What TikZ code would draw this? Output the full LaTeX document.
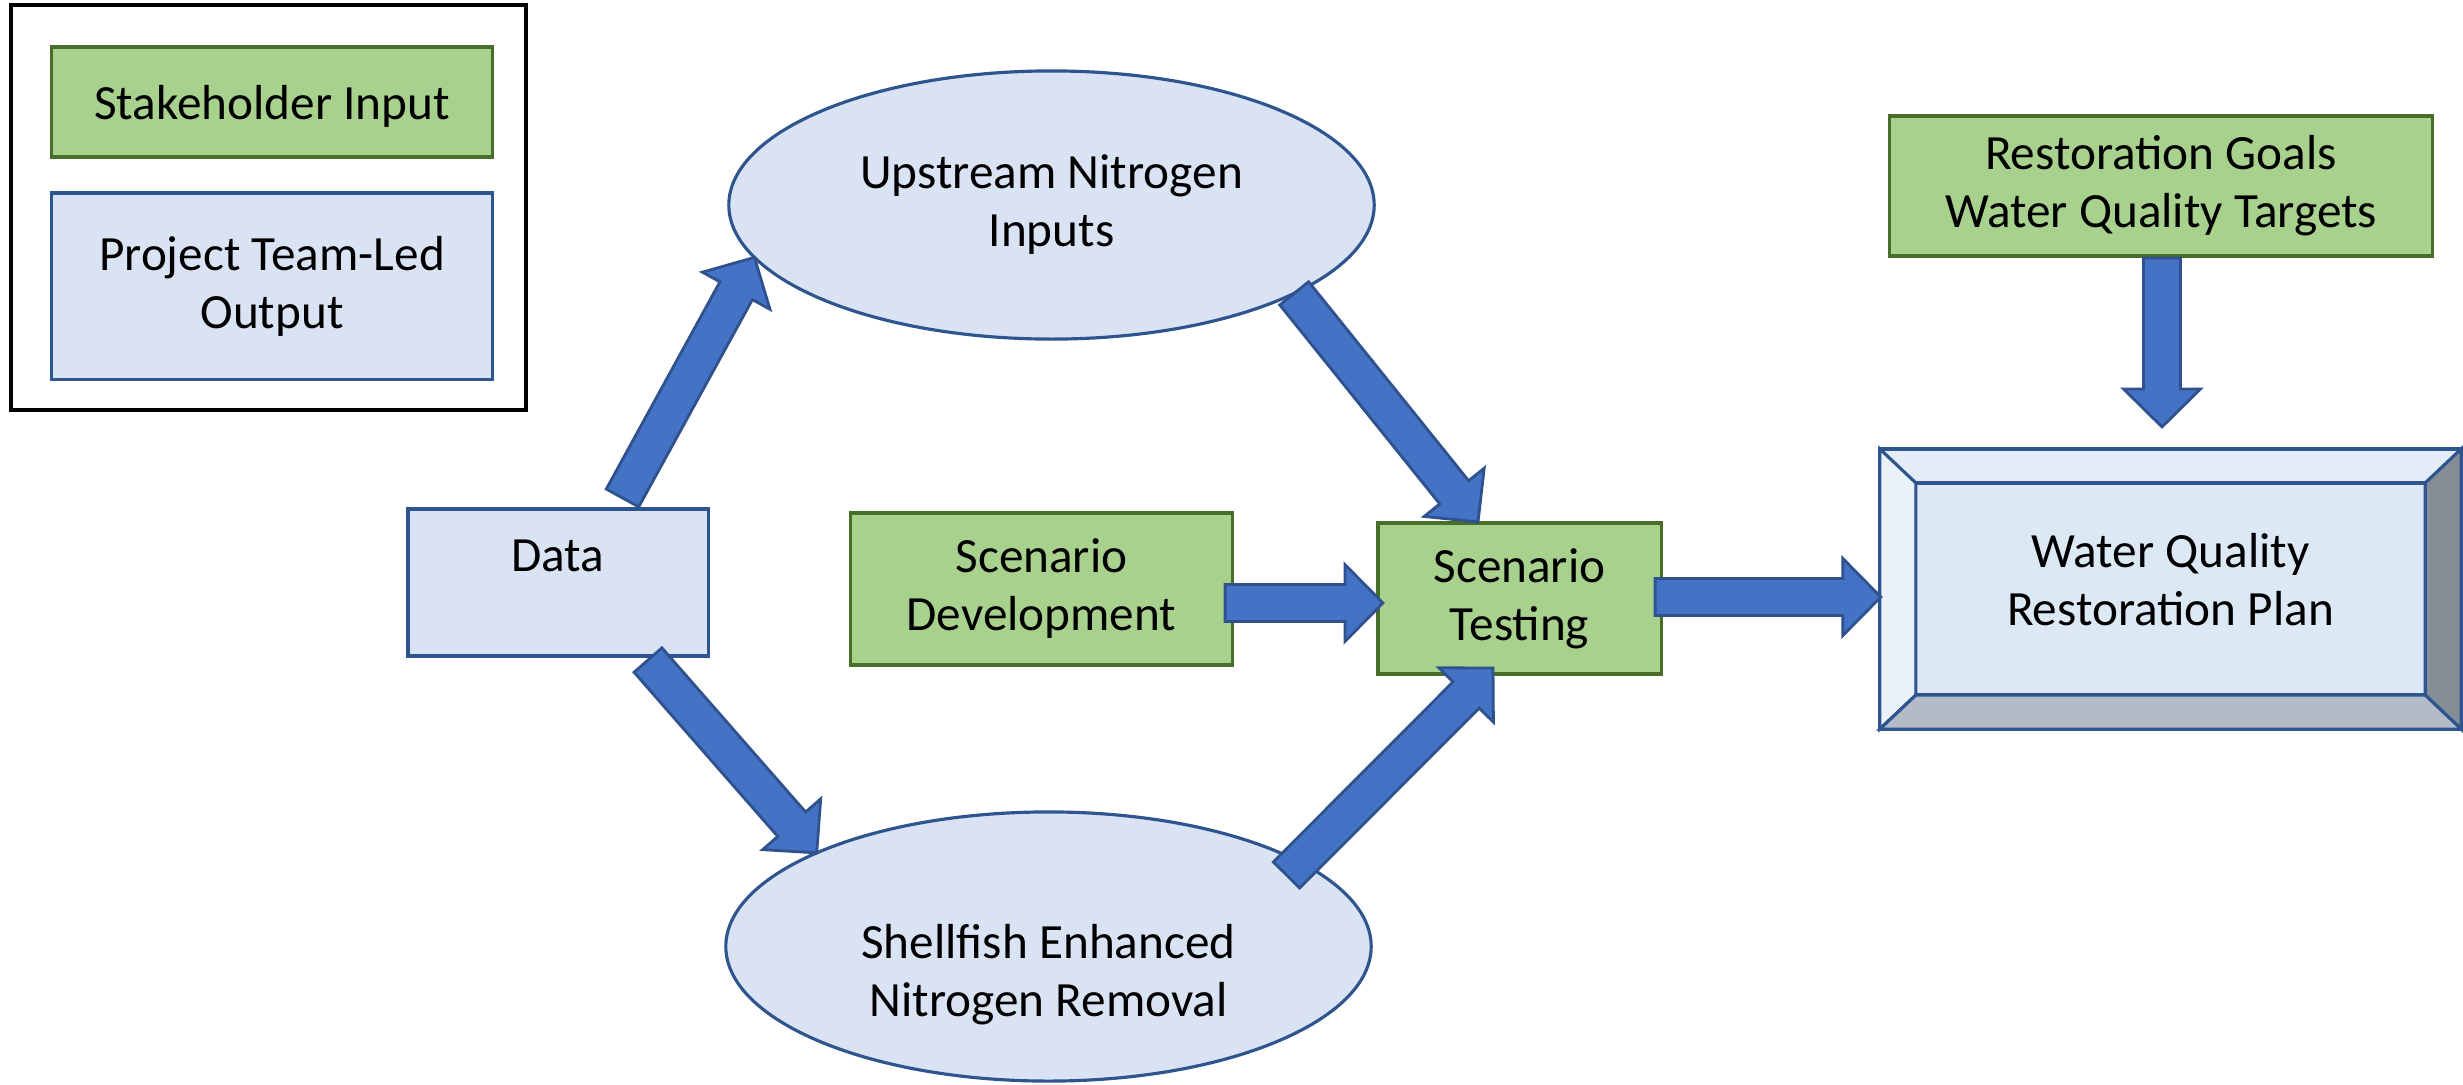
\documentclass[tikz,border=0pt]{standalone}
\usepackage{fontspec}
\setmainfont{Carlito}
\usepackage{tikz}
\usetikzlibrary{shapes.geometric, calc, positioning}

\definecolor{stakefill}{RGB}{169,209,142}
\definecolor{stakeedge}{RGB}{72,110,42}
\definecolor{teamfill}{RGB}{218,227,243}
\definecolor{teamedge}{RGB}{47,85,143}
\definecolor{arrowfill}{RGB}{68,114,196}
\definecolor{arrowedge}{RGB}{47,82,143}
\definecolor{beveltop}{RGB}{227,236,247}
\definecolor{bevelleft}{RGB}{234,241,249}
\definecolor{bevelright}{RGB}{133,141,150}
\definecolor{bevelbottom}{RGB}{179,188,198}
\definecolor{bevelface}{RGB}{221,232,245}

\tikzset{
  boxtext/.style={font=\fontsize{14}{16.5}\selectfont, align=center},
  stakebox/.style={rectangle, draw=stakeedge, fill=stakefill, line width=0.9pt, inner sep=0pt, outer sep=0pt, boxtext},
  teambox/.style={rectangle, draw=teamedge, fill=teamfill, line width=0.9pt, inner sep=0pt, outer sep=0pt, boxtext},
  teamoval/.style={ellipse, draw=teamedge, fill=teamfill, line width=0.9pt, inner sep=0pt, outer sep=0pt, boxtext},
  flowarrow/.style={fill=arrowfill, draw=arrowedge, line width=0.8pt, line join=miter},
}

% block arrow from #1 to #2
\newcommand{\blockarrow}[2]{%
  \coordinate (ba-s) at #1;
  \coordinate (ba-e) at #2;
  \coordinate (ba-n) at ($(ba-e)!0.38cm!(ba-s)$);
  \filldraw[flowarrow] ($(ba-s)!0.185cm!90:(ba-e)$) -- ($(ba-n)!0.185cm!90:(ba-e)$)
    -- ($(ba-n)!0.385cm!90:(ba-e)$) -- (ba-e) -- ($(ba-n)!0.385cm!-90:(ba-e)$)
    -- ($(ba-n)!0.185cm!-90:(ba-e)$) -- ($(ba-s)!0.185cm!-90:(ba-e)$) -- cycle;
}

\begin{document}
\begin{tikzpicture}[x=0.01cm, y={(0,-0.01cm)}]
    \useasboundingbox (0,0) rectangle (2463,1084);

    % Legend
    \node[draw=black, line width=1.1pt, minimum width=5.15cm, minimum height=4.05cm, inner sep=0pt] (legend) at (268.5,207.5) {};
    \node[stakebox, minimum width=4.4cm, minimum height=1.1cm, label={[boxtext, yshift=-0.04cm]center:Stakeholder Input}] (stake) at (272,102) {};
    \node[teambox, minimum width=4.4cm, minimum height=1.86cm, below=0.36cm of stake] (team) {Project Team-Led\\Output};

    % Inputs
    \node[teambox, minimum width=3cm, minimum height=1.47cm, label={[boxtext, yshift=0.265cm]center:Data}] (data) at (558,582.5) {};
    \node[teamoval, minimum width=6.45cm, minimum height=2.68cm] (upstream) at (1051.5,205) {Upstream Nitrogen\\Inputs};
    \node[teamoval, minimum width=6.45cm, minimum height=2.69cm, label={[boxtext, yshift=-0.28cm]center:Shellfish Enhanced\\Nitrogen Removal}] (shellfish) at (1048.5,946.5) {};
    \node[stakebox, minimum width=3.81cm, minimum height=1.52cm] (dev) at (1041.5,589) {Scenario\\Development};
    \node[stakebox, minimum width=2.83cm, minimum height=1.51cm] (testing) at (1519.5,598.5) {Scenario\\Testing};
    \node[stakebox, minimum width=5.42cm, minimum height=1.4cm] (goals) at (2161,186) {Restoration Goals\\Water Quality Targets};

    % Bevelled plan box
    \node[rectangle, draw=teamedge, fill=beveltop, line width=0.9pt, minimum width=5.81cm, minimum height=2.8cm, inner sep=0pt, outer sep=0pt] (plan) at (2170.5,589) {};
    \node[teambox, fill=bevelface, minimum width=5.09cm, minimum height=2.12cm, label={[boxtext, yshift=0.09cm]center:Water Quality\\Restoration Plan}] (planface) at (plan.center) {};
    \filldraw[draw=teamedge, fill=bevelleft, line width=0.9pt] (plan.north west) -- (planface.north west) -- (planface.south west) -- (plan.south west) -- cycle;
    \filldraw[draw=teamedge, fill=bevelright, line width=0.9pt] (plan.north east) -- (planface.north east) -- (planface.south east) -- (plan.south east) -- cycle;
    \filldraw[draw=teamedge, fill=bevelbottom, line width=0.9pt] (plan.south west) -- (planface.south west) -- (planface.south east) -- (plan.south east) -- cycle;

    % Flow arrows
    \blockarrow{($(data.north)+(64.5,-11)$)}{(upstream.190.6)}
    \blockarrow{($(data.south)+(90,4)$)}{(shellfish.158.35)}
    \blockarrow{(upstream.340.5)}{($(testing.north)+(-41.5,-1)$)}
    \blockarrow{($(shellfish.center)+(238,-71.5)$)}{($(testing.south)+(-26.5,-6)$)}
    \blockarrow{($(dev.east)+(-7,14)$)}{($(testing.west)+(5,4.5)$)}
    \blockarrow{($(testing.east)+(-6,-1.5)$)}{($(plan.west)+(1,8)$)}
    \blockarrow{($(goals.south)+(1,2)$)}{($(plan.north)+(-8.5,-22)$)}
\end{tikzpicture}
\end{document}
